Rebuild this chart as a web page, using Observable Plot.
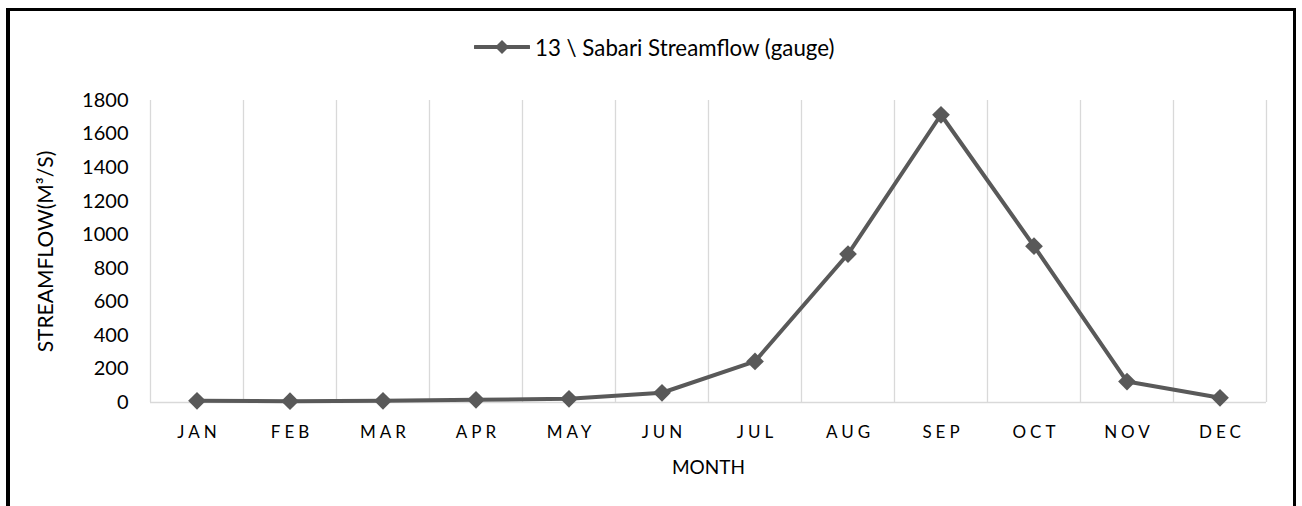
<!DOCTYPE html>
<html>
<head>
<meta charset="utf-8">
<script src="https://cdn.jsdelivr.net/npm/d3@7"></script>
<script src="https://cdn.jsdelivr.net/npm/@observablehq/plot@0.6"></script>
<style>
  html, body { margin: 0; padding: 0; background: #fff; }
  #wrap { position: relative; width: 1302px; height: 506px; overflow: hidden; font-family: Lato, "Open Sans", sans-serif; }
  #frame { position: absolute; left: 6px; top: 8px; width: 1283px; height: 520px;
           border-left: 4px solid #000; border-top: 3px solid #000; border-right: 3px solid #000; box-sizing: content-box; }
  #legend { position: absolute; left: 0; top: 0; width: 1302px; height: 80px; }
  #legend .item { position: absolute; left: 474px; top: 34px; display: flex; align-items: center; height: 26px; }
  #legend .txt { font-size: 22.3px; color: #000; margin-left: 5px; white-space: nowrap; }
  #chart { position: absolute; left: 0; top: 80px; }
  #chart g[aria-label="x-axis tick label"] text { letter-spacing: 4px; }
</style>
</head>
<body>
<div id="wrap">
  <div id="frame"></div>
  <div id="legend"><div class="item">
    <svg width="56" height="20"><line x1="1" y1="10" x2="55" y2="10" stroke="#595959" stroke-width="4" stroke-linecap="round"/><path d="M28,3 L35,10 L28,17 L21,10 Z" fill="#595959"/></svg>
    <span class="txt" id="legtxt"></span>
  </div></div>
  <div id="chart"></div>
</div>
<script>
const months = ["JAN","FEB","MAR","APR","MAY","JUN","JUL","AUG","SEP","OCT","NOV","DEC"];
const streamflow = [10, 8, 10, 16, 22, 58, 245, 885, 1715, 932, 125, 28];
const yTicks = [0, 200, 400, 600, 800, 1000, 1200, 1400, 1600, 1800];
const seriesName = "13 \\ Sabari Streamflow (gauge)";
const xLabel = "MONTH";
const yLabel = "STREAMFLOW(M³/S)";

document.getElementById("legtxt").textContent = seriesName;

const data = months.map((m, i) => ({month: m, idx: i + 1, value: streamflow[i]}));
const gridPos = d3.range(months.length + 1).map(i => i + 0.5);
const color = "#595959";

const chart = Plot.plot({
  width: 1302,
  height: 426,
  marginTop: 20,
  marginBottom: 104,
  marginLeft: 150,
  marginRight: 36,
  style: {fontFamily: "Lato, 'Open Sans', sans-serif", background: "transparent", color: "#000"},
  x: {type: "linear", domain: [0.5, months.length + 0.5]},
  y: {domain: [0, 1800]},
  marks: [
    Plot.ruleX(gridPos, {x: d => d, y1: 0, y2: 1800, stroke: "#d9d9d9", strokeWidth: 1.3}),
    Plot.ruleY([0], {x1: 0.5, x2: months.length + 0.5, stroke: "#d9d9d9", strokeWidth: 1.3}),
    Plot.axisY({ticks: yTicks, tickSize: 0, tickPadding: 22, fontSize: 20, tickFormat: d => String(d), label: null}),
    Plot.axisX({ticks: data.map(d => d.idx), tickFormat: i => months[i - 1], tickSize: 0, tickPadding: 23, fontSize: 17, dx: 2, label: null}),
    Plot.text([xLabel], {frameAnchor: "bottom", dy: 71, fontSize: 19, text: d => d}),
    Plot.text([yLabel], {frameAnchor: "left", dx: -104, rotate: -90, textAnchor: "middle", fontSize: 21, text: d => d}),
    Plot.line(data, {x: "idx", y: "value", stroke: color, strokeWidth: 4}),
    Plot.dot(data, {x: "idx", y: "value", symbol: "diamond2", r: 8, fill: color, stroke: "none"})
  ]
});
document.getElementById("chart").appendChild(chart);
</script>
</body>
</html>
